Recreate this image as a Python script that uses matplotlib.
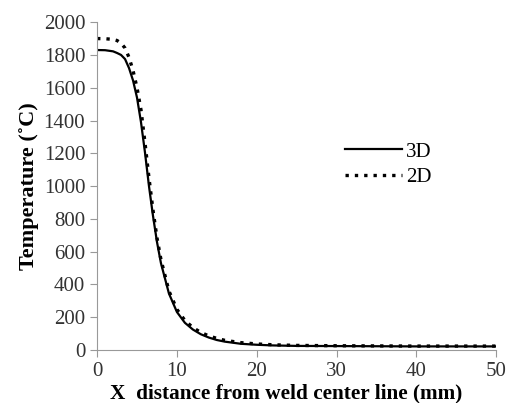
import matplotlib
matplotlib.use("Agg")
import matplotlib.pyplot as plt

x = [0, 1, 2, 2.5, 3, 3.5, 4, 4.5, 5, 5.5, 6, 6.5, 7, 7.5, 8, 9, 10, 11, 12, 13, 14, 15, 16, 18, 20, 22, 25, 30, 35, 40, 45, 50]
t3d = [1830, 1829, 1822, 1812, 1800, 1775, 1720, 1645, 1540, 1390, 1205, 1000, 820, 660, 530, 345, 232, 166, 125, 96, 76, 61, 51, 38, 32, 28, 25, 24, 23, 22, 22, 22]
t2d = [1900, 1899, 1895, 1888, 1872, 1842, 1785, 1705, 1600, 1465, 1265, 1050, 855, 685, 552, 360, 248, 180, 137, 107, 86, 71, 59, 45, 37, 32, 28, 26, 25, 24, 24, 24]

xticks = [0, 10, 20, 30, 40, 50]
yticks = list(range(0, 2001, 200))

plt.rcParams['font.family'] = ['Liberation Serif', 'DejaVu Serif']
fig = plt.figure(figsize=(5.11, 4.03), dpi=100)
ax = fig.add_axes([0.19, 0.1315, 0.781, 0.8135])
ax.plot(x, t3d, color='black', lw=1.6, label='3D')
ax.plot(x, t2d, color='black', lw=2.4, ls=(0, (1, 1.8)), label='2D')
ax.set_xlim(0, 50)
ax.set_ylim(0, 2000)
ax.set_xticks(xticks)
ax.set_yticks(yticks)
for s in ['top', 'right']:
    ax.spines[s].set_visible(False)
for s in ['left', 'bottom']:
    ax.spines[s].set_color('#999999')
ax.tick_params(colors='#999999', labelcolor='#333333', labelsize=15, length=5, direction='out')
ax.set_xlabel('X  distance from weld center line (mm)', fontsize=15.3, fontweight='bold', labelpad=0)
ax.xaxis.set_label_coords(0.473, -0.103)
ax.set_ylabel('Temperature (˚C)', fontsize=16, fontweight='bold', labelpad=3)
ax.legend(loc='center left', bbox_to_anchor=(0.575, 0.565), frameon=False, fontsize=15,
          handlelength=2.7, handletextpad=0.2, labelspacing=0.3)
fig.savefig('out.png', dpi=100)
